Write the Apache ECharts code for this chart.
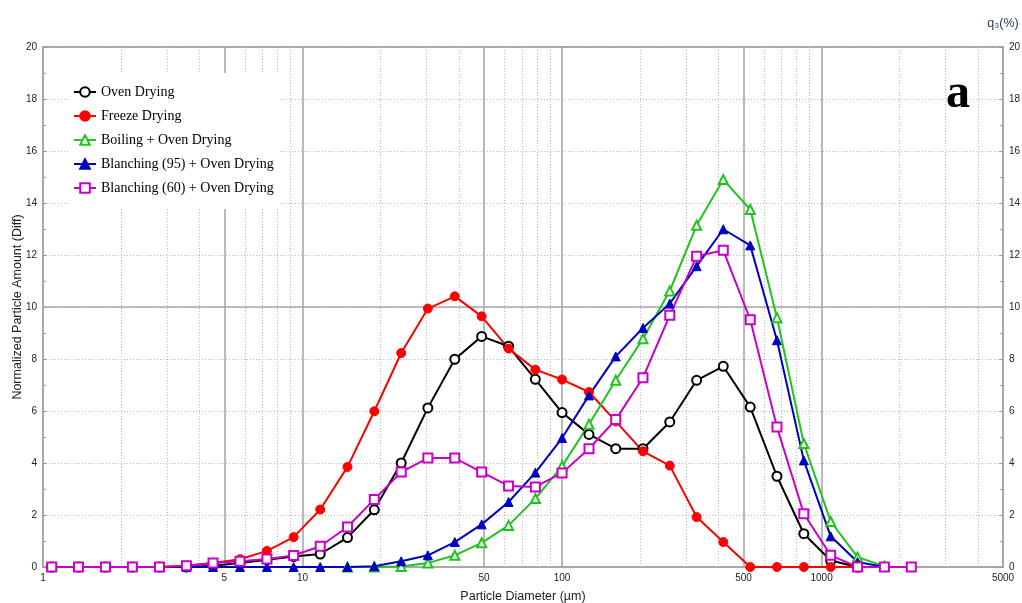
<!DOCTYPE html>
<html>
<head>
<meta charset="utf-8">
<script src="https://cdn.jsdelivr.net/npm/echarts@6/dist/echarts.min.js"></script>
<style>
  html, body { margin: 0; padding: 0; background: #fff; }
  #chart { width: 1022px; height: 603px; }
</style>
</head>
<body>
<div id="chart"></div>
<script>
// Particle diameter classes (µm), shared by every curve
const diameters = [1.08, 1.37, 1.74, 2.21, 2.81, 3.57, 4.52, 5.74, 7.29, 9.24, 11.7, 14.9, 18.9, 24.0, 30.4, 38.6,
  49.0, 62.2, 78.9, 100, 127, 161, 205, 260, 330, 418, 531, 673, 854, 1084, 1376, 1746, 2216];

// q3 (%) per diameter class; null = no point in that class
const ovenDrying = [0, 0, 0, 0, 0, 0, 0.05, 0.15, 0.28, 0.4, 0.5, 1.13, 2.2, 4.0, 6.12, 7.99,
  8.87, 8.49, 7.22, 5.94, 5.1, 4.55, 4.55, 5.58, 7.18, 7.72, 6.15, 3.49, 1.28, 0.25, 0, null, null];
const freezeDrying = [0, 0, 0, 0, 0, 0.05, 0.15, 0.3, 0.62, 1.15, 2.21, 3.85, 5.99, 8.23, 9.94, 10.41,
  9.64, 8.4, 7.59, 7.21, 6.73, 5.6, 4.45, 3.9, 1.92, 0.96, 0, 0, 0, 0, 0, null, null];
const boilingOven = [null, null, null, null, null, null, null, null, null, null, null, 0, 0, 0.02, 0.15, 0.45,
  0.93, 1.6, 2.63, 3.88, 5.49, 7.18, 8.78, 10.62, 13.14, 14.9, 13.75, 9.59, 4.75, 1.75, 0.38, 0.03, null];
const blanching95 = [null, null, null, null, null, 0, 0, 0, 0, 0, 0, 0, 0.03, 0.22, 0.45, 0.96,
  1.64, 2.5, 3.63, 4.96, 6.6, 8.1, 9.19, 10.13, 11.57, 12.99, 12.37, 8.72, 4.1, 1.18, 0.19, 0, null];
const blanching60 = [0, 0, 0, 0, 0, 0.05, 0.15, 0.22, 0.31, 0.44, 0.8, 1.54, 2.6, 3.65, 4.19, 4.19,
  3.65, 3.12, 3.08, 3.62, 4.55, 5.67, 7.28, 9.68, 11.95, 12.18, 9.51, 5.38, 2.05, 0.45, 0, 0, 0];

const seriesNames = ['Oven Drying', 'Freeze Drying', 'Boiling + Oven Drying',
  'Blanching (95) + Oven Drying', 'Blanching (60) + Oven Drying'];

// Axis ticks and grid positions
const xTickLabels = [1, 5, 10, 50, 100, 500, 1000, 5000];
const xSolidLines = [5, 10, 50, 100, 500, 1000];
const xDottedLines = [2, 3, 4, 6, 7, 8, 9, 20, 30, 40, 60, 70, 80, 90, 200, 300, 400,
  600, 700, 800, 900, 2000, 3000, 4000];
const ySolidLines = [10];

function pairs(values) {
  const out = [];
  values.forEach((v, i) => { if (v !== null) out.push([diameters[i], v]); });
  return out;
}

const chart = echarts.init(document.getElementById('chart'), null, { renderer: 'canvas' });

const gridGray = '#a8a8a8';
const dotGray = '#b8b8b8';
const labelFont = { fontFamily: '"Liberation Sans", Arial, sans-serif', fontSize: 10, color: '#222' };

const gridLines = [];
xDottedLines.forEach(v => gridLines.push({ xAxis: v, lineStyle: { color: dotGray, width: 1, type: [1, 2] } }));
xSolidLines.forEach(v => gridLines.push({ xAxis: v, lineStyle: { color: gridGray, width: 1.6, type: 'solid' } }));
ySolidLines.forEach(v => gridLines.push({ yAxis: v, lineStyle: { color: gridGray, width: 1.6, type: 'solid' } }));

function curve(name, values, color, symbol, filled) {
  return {
    name: name,
    type: 'line',
    data: pairs(values),
    symbol: symbol,
    symbolSize: 9,
    showAllSymbol: true,
    z: 3,
    lineStyle: { color: color, width: 2 },
    itemStyle: filled
      ? { color: color, borderColor: color, borderWidth: 1 }
      : { color: color, borderColor: color, borderWidth: 1.8 },
    emphasis: { disabled: true }
  };
}

const yAxisBase = {
  type: 'value',
  min: 0,
  max: 20,
  interval: 2,
  axisLine: { show: true, lineStyle: { color: gridGray, width: 2 } },
  axisTick: { show: true, inside: true, length: 4, lineStyle: { color: '#999' } },
  minorTick: { show: true, splitNumber: 2, length: 3, lineStyle: { color: '#999' } },
  axisLabel: Object.assign({ margin: 6 }, labelFont),
  splitLine: { show: false }
};

chart.setOption({
  animation: false,
  backgroundColor: '#fff',
  grid: {
    left: 43, right: 19, top: 47, bottom: 36,
    outerBoundsMode: 'none',
    containLabel: false,
    show: true, borderColor: gridGray, borderWidth: 2, backgroundColor: 'transparent'
  },
  legend: {
    data: seriesNames,
    orient: 'vertical',
    left: 68,
    top: 73,
    z: 6,
    padding: [12, 6, 14, 5],
    itemWidth: 22,
    itemHeight: 12,
    itemGap: 10,
    backgroundColor: '#fff',
    textStyle: { fontFamily: '"Liberation Serif", "Times New Roman", serif', fontSize: 14, color: '#000' }
  },
  xAxis: {
    type: 'log',
    logBase: 10,
    min: 1,
    max: 5000,
    name: 'Particle Diameter (µm)',
    nameLocation: 'middle',
    nameGap: 23,
    nameTextStyle: { fontFamily: '"Liberation Sans", Arial, sans-serif', fontSize: 12.5, color: '#222' },
    axisLine: { show: true, lineStyle: { color: gridGray, width: 2 } },
    axisTick: { show: false },
    splitLine: { show: false },
    axisLabel: Object.assign({
      margin: 6,
      customValues: xTickLabels,
      formatter: v => String(Math.round(v))
    }, labelFont)
  },
  yAxis: [
    Object.assign({}, yAxisBase, {
      position: 'left',
      name: 'Normalized Particle Amount (Diff)',
      nameLocation: 'middle',
      nameMoveOverlap: false,
      nameGap: 19,
      nameTextStyle: { fontFamily: '"Liberation Sans", Arial, sans-serif', fontSize: 12.5, color: '#222' },
      splitLine: { show: true, lineStyle: { color: dotGray, width: 1, type: [1, 2] } }
    }),
    Object.assign({}, yAxisBase, {
      position: 'right',
      name: 'q₃(%)',
      nameLocation: 'end',
      nameGap: 17,
      nameTextStyle: { fontFamily: '"Liberation Sans", Arial, sans-serif', fontSize: 12.5, color: '#1e3557', align: 'center' }
    })
  ],
  graphic: [{
    type: 'text',
    x: 958,
    y: 95,
    z: 10,
    style: {
      text: 'a',
      align: 'center',
      verticalAlign: 'middle',
      font: 'bold 48px "Liberation Serif", "Times New Roman", serif',
      fill: '#000'
    }
  }],
  series: [
    {
      name: 'gridlines',
      type: 'line',
      data: [[1, 0]],
      showSymbol: false,
      silent: true,
      z: 1,
      lineStyle: { opacity: 0 },
      markLine: {
        silent: true,
        z: 1,
        symbol: ['none', 'none'],
        label: { show: false },
        emphasis: { disabled: true },
        animation: false,
        data: gridLines
      }
    },
    curve(seriesNames[0], ovenDrying, '#000000', 'emptyCircle', false),
    curve(seriesNames[1], freezeDrying, '#ff0000', 'circle', true),
    curve(seriesNames[2], boilingOven, '#1fc41f', 'emptyTriangle', false),
    curve(seriesNames[3], blanching95, '#0000c0', 'triangle', true),
    curve(seriesNames[4], blanching60, '#c800c8', 'emptyRect', false)
  ]
});
</script>
</body>
</html>
